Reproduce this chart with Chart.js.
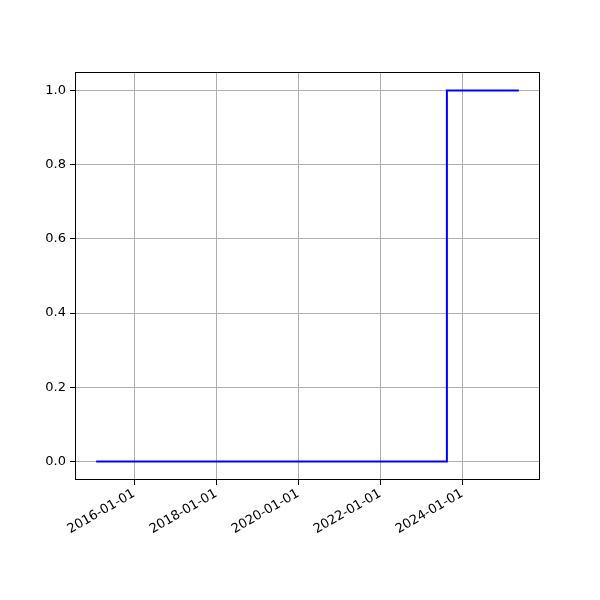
<!DOCTYPE html>
<html>
<head>
<meta charset="utf-8">
<script src="https://cdn.jsdelivr.net/npm/chart.js@4"></script>
<style>
  body { margin: 0; background: #fff; }
  #wrap { width: 600px; height: 600px; }
</style>
</head>
<body>
<div id="wrap"><canvas id="myChart" width="600" height="600"></canvas></div>
<script>
let dates = ["2015-01-28", "2023-08-18", "2025-05-20"];
let values = [0, 1, 1];
let xTickDates = ["2016-01-01", "2018-01-01", "2020-01-01", "2022-01-01", "2024-01-01"];
let yTickValues = [0.0, 0.2, 0.4, 0.6, 0.8, 1.0];

function toTime(s) {
  return new Date(s + "T00:00:00Z").getTime();
}

let times = dates.map(toTime);
let span = times[times.length - 1] - times[0];
let xMin = times[0] - span * 0.05;
let xMax = times[times.length - 1] + span * 0.05;

let points = times.map(function (t, i) {
  return { x: t, y: values[i] };
});

// matplotlib draws a full box round the axes
const frameBox = {
  id: "frameBox",
  afterDraw(chart) {
    const a = chart.chartArea;
    const c = chart.ctx;
    c.save();
    c.strokeStyle = "#000";
    c.lineWidth = 1;
    c.strokeRect(Math.round(a.left) + 0.5, Math.round(a.top) + 0.5,
      Math.round(a.right - a.left) - 1, Math.round(a.bottom - a.top) - 1);
    c.restore();
  },
};

Chart.defaults.font.family = "'DejaVu Sans', sans-serif";
Chart.defaults.font.size = 13;
Chart.defaults.color = "#000";

function chartJs() {
  const ctx = document.getElementById("myChart");
  new Chart(ctx, {
    type: "line",
    data: {
      datasets: [
        {
          data: points,
          borderColor: "rgb(0, 0, 255)",
          borderWidth: 2,
          pointRadius: 0,
          stepped: "before",
          fill: false,
        },
      ],
    },
    options: {
      responsive: false,
      animation: false,
      layout: { padding: { top: 72, right: 60, left: 0, bottom: 0 } },
      plugins: {
        legend: { display: false },
        tooltip: { enabled: false },
      },
      scales: {
        x: {
          type: "linear",
          min: xMin,
          max: xMax,
          afterBuildTicks(scale) {
            scale.ticks = xTickDates.map(function (d) {
              return { value: toTime(d) };
            });
          },
          afterFit(scale) {
            scale.height = 120;
          },
          ticks: {
            minRotation: 30,
            maxRotation: 30,
            padding: 1,
            callback(v) {
              return new Date(v).toISOString().slice(0, 10);
            },
          },
          grid: {
            color: "#b0b0b0",
            lineWidth: 1,
            tickColor: "#000",
            tickLength: 5,
          },
          border: { display: false },
        },
        y: {
          min: -0.05,
          max: 1.05,
          afterBuildTicks(scale) {
            scale.ticks = yTickValues.map(function (v) {
              return { value: v };
            });
          },
          afterFit(scale) {
            scale.width = 75;
          },
          ticks: {
            padding: 4,
            callback(v) {
              return v.toFixed(1);
            },
          },
          grid: {
            color: "#b0b0b0",
            lineWidth: 1,
            tickColor: "#000",
            tickLength: 5,
          },
          border: { display: false },
        },
      },
    },
    plugins: [frameBox],
  });
}

chartJs();
</script>
</body>
</html>
